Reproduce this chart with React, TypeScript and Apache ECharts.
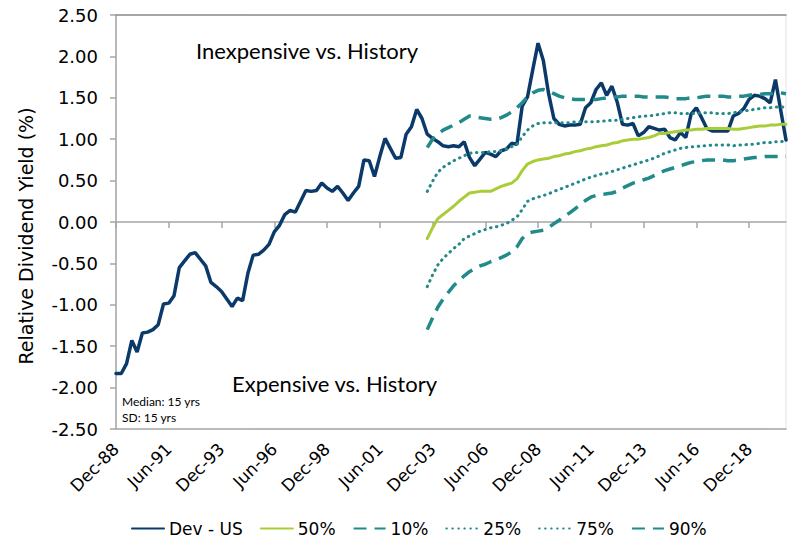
import React, { useEffect, useRef } from "react";
import * as echarts from "echarts";

const quarterNames = ["Mar", "Jun", "Sep", "Dec"];
const firstYear = 1988;
const pointCount = 128;
const categories: string[] = [];
for (let i = 0; i < pointCount; i++) {
  const q = (3 + i) % 4;
  const y = firstYear + Math.floor((3 + i) / 4);
  categories.push(quarterNames[q] + "-" + String(y % 100).padStart(2, "0"));
}

const devUS = [
  -1.83, -1.83, -1.71, -1.43, -1.57, -1.34, -1.33, -1.30, -1.24, -0.99,
  -0.98, -0.89, -0.55, -0.47, -0.39, -0.37, -0.45, -0.53, -0.73, -0.78,
  -0.84, -0.93, -1.02, -0.92, -0.95, -0.62, -0.40, -0.39, -0.34, -0.27,
  -0.12, -0.04, 0.09, 0.14, 0.12, 0.25, 0.38, 0.37, 0.38, 0.47,
  0.41, 0.37, 0.43, 0.35, 0.26, 0.35, 0.43, 0.75, 0.74, 0.55,
  0.79, 1.01, 0.89, 0.77, 0.78, 1.06, 1.15, 1.36, 1.25, 1.06,
  1.01, 0.97, 0.92, 0.91, 0.92, 0.91, 0.97, 0.78, 0.68, 0.76,
  0.84, 0.82, 0.79, 0.86, 0.88, 0.95, 0.94, 1.40, 1.51, 1.84,
  2.16, 1.95, 1.55, 1.25, 1.18, 1.16, 1.17, 1.17, 1.18, 1.38,
  1.44, 1.60, 1.68, 1.53, 1.64, 1.45, 1.18, 1.17, 1.19, 1.04,
  1.08, 1.15, 1.13, 1.11, 1.12, 1.02, 0.99, 1.08, 1.02, 1.30,
  1.38, 1.26, 1.13, 1.10, 1.10, 1.10, 1.10, 1.28, 1.31, 1.37,
  1.48, 1.53, 1.52, 1.49, 1.44, 1.72, 1.35, 0.99,
];

// percentile bands start at Sep-03 (index 59)
const bandStart = 59;

const p50 = [
  -0.20, -0.07, 0.04, 0.09, 0.14, 0.19, 0.25, 0.30, 0.35, 0.36,
  0.37, 0.37, 0.37, 0.40, 0.43, 0.45, 0.47, 0.52, 0.62, 0.70,
  0.73, 0.75, 0.76, 0.77, 0.79, 0.80, 0.82, 0.83, 0.85, 0.86,
  0.88, 0.89, 0.91, 0.92, 0.93, 0.95, 0.96, 0.98, 0.99, 1.00,
  1.00, 1.01, 1.02, 1.04, 1.07, 1.07, 1.08, 1.09, 1.10, 1.11,
  1.11, 1.12, 1.12, 1.13, 1.13, 1.13, 1.13, 1.13, 1.12, 1.12,
  1.13, 1.14, 1.15, 1.16, 1.16, 1.17, 1.17, 1.18, 1.18,
];

const p10 = [
  -1.30, -1.16, -1.03, -0.93, -0.85, -0.77, -0.71, -0.65, -0.60, -0.56,
  -0.53, -0.51, -0.48, -0.46, -0.43, -0.40, -0.36, -0.30, -0.20, -0.14,
  -0.12, -0.11, -0.10, -0.07, -0.02, 0.02, 0.07, 0.11, 0.16, 0.21,
  0.26, 0.30, 0.32, 0.33, 0.34, 0.35, 0.37, 0.41, 0.44, 0.47,
  0.49, 0.51, 0.53, 0.56, 0.59, 0.62, 0.64, 0.66, 0.68, 0.70,
  0.72, 0.73, 0.74, 0.75, 0.75, 0.75, 0.75, 0.74, 0.74, 0.75,
  0.76, 0.77, 0.78, 0.78, 0.79, 0.79, 0.79, 0.79, 0.79,
];

const p25 = [
  -0.78, -0.64, -0.52, -0.44, -0.38, -0.32, -0.27, -0.20, -0.17, -0.14,
  -0.11, -0.09, -0.07, -0.06, -0.04, -0.02, 0.02, 0.06, 0.15, 0.25,
  0.28, 0.30, 0.32, 0.34, 0.37, 0.39, 0.42, 0.44, 0.47, 0.49,
  0.52, 0.54, 0.56, 0.58, 0.59, 0.61, 0.63, 0.65, 0.67, 0.69,
  0.71, 0.73, 0.75, 0.77, 0.80, 0.83, 0.85, 0.87, 0.89, 0.90,
  0.91, 0.91, 0.92, 0.92, 0.93, 0.93, 0.93, 0.93, 0.92, 0.93,
  0.93, 0.94, 0.94, 0.95, 0.96, 0.96, 0.97, 0.97, 0.98,
];

const p75 = [
  0.37, 0.49, 0.60, 0.66, 0.70, 0.74, 0.77, 0.80, 0.83, 0.84,
  0.84, 0.84, 0.85, 0.85, 0.86, 0.88, 0.91, 0.94, 1.03, 1.11,
  1.16, 1.19, 1.20, 1.20, 1.20, 1.20, 1.20, 1.20, 1.21, 1.21,
  1.21, 1.21, 1.21, 1.22, 1.22, 1.23, 1.23, 1.24, 1.25, 1.26,
  1.27, 1.28, 1.28, 1.29, 1.30, 1.31, 1.32, 1.32, 1.31, 1.31,
  1.31, 1.31, 1.32, 1.32, 1.32, 1.31, 1.31, 1.31, 1.32, 1.33,
  1.34, 1.35, 1.36, 1.37, 1.38, 1.38, 1.39, 1.39, 1.39,
];

const p90 = [
  0.90, 1.00, 1.06, 1.11, 1.14, 1.17, 1.20, 1.24, 1.28, 1.27,
  1.26, 1.25, 1.24, 1.24, 1.26, 1.29, 1.33, 1.38, 1.44, 1.51,
  1.56, 1.59, 1.60, 1.58, 1.55, 1.52, 1.50, 1.49, 1.48, 1.48,
  1.48, 1.48, 1.48, 1.49, 1.50, 1.51, 1.51, 1.52, 1.52, 1.52,
  1.52, 1.51, 1.51, 1.51, 1.51, 1.51, 1.50, 1.49, 1.49, 1.49,
  1.50, 1.50, 1.51, 1.52, 1.52, 1.52, 1.52, 1.51, 1.51, 1.52,
  1.52, 1.53, 1.54, 1.54, 1.55, 1.55, 1.56, 1.56, 1.55,
];

const yTicks = { min: -2.5, max: 2.5, interval: 0.5 };

const NAVY = "#0b3a6a";
const GREEN = "#a9cd38";
const TEAL = "#218a8a";
const AXIS = "#a6a6a6";
const AXFONT = "'DejaVu Sans', Verdana, sans-serif";
const NOTEFONT = "Lato";

function padBand(vals: number[]) {
  const out: (number | null)[] = [];
  for (let i = 0; i < bandStart; i++) out.push(null);
  return out.concat(vals);
}

export default function App() {
  const ref = useRef<HTMLDivElement>(null);
  useEffect(() => {
    if (!ref.current) return;
    const chart = echarts.init(ref.current, undefined, { renderer: "svg" });
    const dashed = [13, 8];
    const dotted = [0.5, 5.5];
    const mk = (name: string, data: any[], color: string, width: number, type: any, cap: any = "butt") => ({
      name,
      type: "line",
      data,
      xAxisIndex: 0,
      symbol: "none",
      showSymbol: false,
      connectNulls: false,
      lineStyle: { color, width, type, cap },
      itemStyle: { color },
      z: 3,
    });
    chart.setOption({
      animation: false,
      backgroundColor: "#ffffff",
      grid: {
        left: 116,
        right: 3,
        top: 15,
        bottom: 111,
        containLabel: false,
        show: true,
        borderColor: "#e2e2e2",
        borderWidth: 1,
      },
      legend: {
        top: 515,
        left: 126,
        itemWidth: 32,
        itemHeight: 10,
        itemGap: 17,
        itemStyle: { opacity: 0 },
        textStyle: { fontFamily: AXFONT, fontSize: 17, color: "#000" },
        data: ["Dev - US", "50%", "10%", "25%", "75%", "90%"],
      },
      xAxis: [
        {
          type: "category",
          data: categories,
          boundaryGap: false,
          axisLine: { onZero: true, lineStyle: { color: AXIS, width: 1.5 } },
          axisTick: { show: true, interval: 9, length: 6, inside: false, lineStyle: { color: AXIS, width: 1.5 } },
          axisLabel: { show: false },
          splitLine: { show: false },
        },
        {
          type: "category",
          data: categories,
          boundaryGap: false,
          position: "bottom",
          axisLine: { onZero: false, lineStyle: { color: AXIS, width: 1.5 } },
          axisTick: { show: false },
          axisLabel: {
            interval: 9,
            rotate: 45,
            margin: 17,
            fontFamily: AXFONT,
            fontSize: 17,
            color: "#000",
          },
          splitLine: { show: false },
        },
        {
          type: "category",
          data: categories,
          boundaryGap: false,
          position: "top",
          axisLine: { onZero: false, lineStyle: { color: "#8c8c8c", width: 1.5 } },
          axisTick: { show: false },
          axisLabel: { show: false },
          splitLine: { show: false },
        },
      ],
      yAxis: {
        type: "value",
        min: yTicks.min,
        max: yTicks.max,
        interval: yTicks.interval,
        axisLine: { show: true, onZero: false, lineStyle: { color: AXIS, width: 1.5 } },
        axisTick: { show: true, length: 6, inside: false, lineStyle: { color: AXIS, width: 1.5 } },
        axisLabel: {
          formatter: (v: number) => v.toFixed(2),
          fontFamily: AXFONT,
          fontSize: 18,
          color: "#000",
          margin: 18,
        },
        splitLine: { show: false },
      },
      graphic: [
        {
          type: "text",
          x: 26,
          y: 236,
          rotation: Math.PI / 2,
          style: {
            text: "Relative Dividend Yield (%)",
            fontFamily: AXFONT,
            fontSize: 19,
            fill: "#000",
            textAlign: "center",
            textVerticalAlign: "middle",
          },
        },
        {
          type: "text",
          x: 196,
          y: 50,
          style: {
            text: "Inexpensive vs. History",
            fontFamily: NOTEFONT,
            fontSize: 22,
            fill: "#000",
            textAlign: "left",
            textVerticalAlign: "middle",
          },
        },
        {
          type: "text",
          x: 232,
          y: 383,
          style: {
            text: "Expensive vs. History",
            fontFamily: NOTEFONT,
            fontSize: 22,
            fill: "#000",
            textAlign: "left",
            textVerticalAlign: "middle",
          },
        },
        {
          type: "text",
          x: 122,
          y: 401,
          style: {
            text: "Median: 15 yrs",
            fontFamily: NOTEFONT,
            fontSize: 12,
            fill: "#000",
            textAlign: "left",
            textVerticalAlign: "middle",
          },
        },
        {
          type: "text",
          x: 122,
          y: 417,
          style: {
            text: "SD: 15 yrs",
            fontFamily: NOTEFONT,
            fontSize: 12,
            fill: "#000",
            textAlign: "left",
            textVerticalAlign: "middle",
          },
        },
      ],
      series: [
        mk("Dev - US", devUS, NAVY, 3.5, "solid", "round"),
        mk("50%", padBand(p50), GREEN, 3, "solid", "round"),
        mk("10%", padBand(p10), TEAL, 3.5, dashed),
        mk("25%", padBand(p25), TEAL, 3, dotted, "round"),
        mk("75%", padBand(p75), TEAL, 3, dotted, "round"),
        mk("90%", padBand(p90), TEAL, 3.5, dashed),
      ],
    });
    return () => chart.dispose();
  }, []);
  return (
    <div
      ref={ref}
      style={{ position: "absolute", left: 0, top: 0, width: 789, height: 540 }}
    />
  );
}
